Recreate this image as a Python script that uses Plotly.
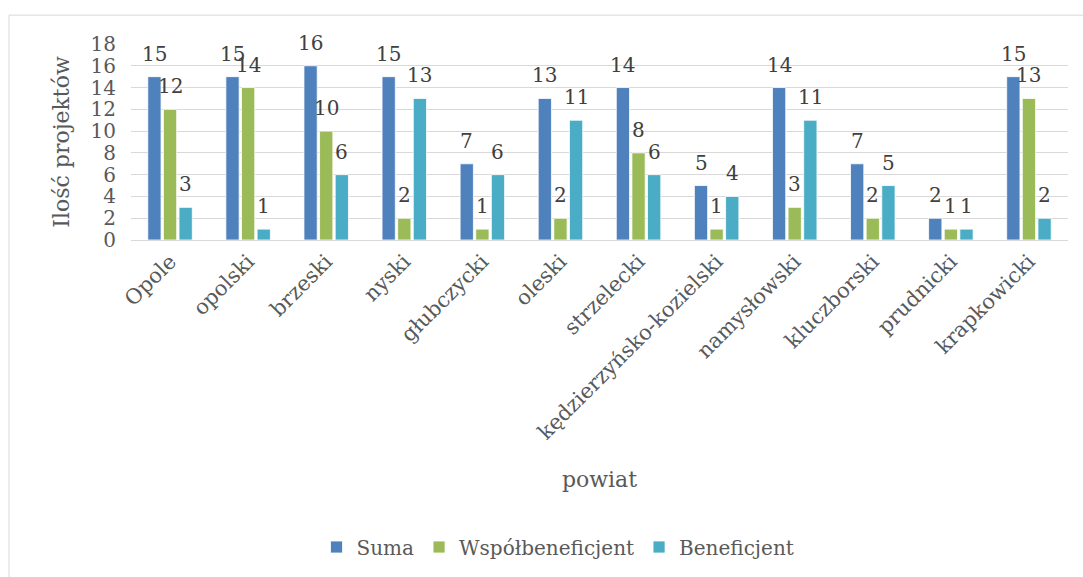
import plotly.graph_objects as go

categories = ["Opole", "opolski", "brzeski", "nyski", "głubczycki", "oleski",
              "strzelecki", "kędzierzyńsko-kozielski", "namysłowski", "kluczborski",
              "prudnicki", "krapkowicki"]
suma = [15, 15, 16, 15, 7, 13, 14, 5, 14, 7, 2, 15]
wspolbeneficjent = [12, 14, 10, 2, 1, 2, 8, 1, 3, 2, 1, 13]
beneficjent = [3, 1, 6, 13, 6, 11, 6, 4, 11, 5, 1, 2]
series_names = ["Suma", "Współbeneficjent", "Beneficjent"]
series_values = [suma, wspolbeneficjent, beneficjent]
colors = ["#4F81BD", "#9BBB59", "#4BACC6"]
y_ticks = list(range(0, 19, 2))

W, H = 1083, 577
ML, MR, MT, MB = 131, 15, 44, 336
FONT = "DejaVu Serif"
BARGAP = 0.4
BARGROUPGAP = 0.15

fig = go.Figure()
for name, vals, col in zip(series_names, series_values, colors):
    fig.add_trace(go.Bar(
        x=categories, y=vals, name=name,
        marker=dict(color=col, line=dict(color="#FFFFFF", width=0.8)),
        hoverinfo="x+y+name",
    ))

# data labels via annotations, shifted to each bar's group slot
plot_w = W - ML - MR
slot_px = plot_w / len(categories) * (1 - BARGAP) / len(series_names)
for i, vals in enumerate(series_values):
    shift = (i - (len(series_names) - 1) / 2) * slot_px
    for c, v in zip(categories, vals):
        fig.add_annotation(x=c, y=v, text=str(v), showarrow=False,
                           xref="x", yref="y", xanchor="center", yanchor="bottom",
                           xshift=shift, yshift=9,
                           font=dict(family=FONT, size=20, color="#404040"))

# outer chart border
fig.add_shape(type="rect", xref="paper", yref="paper",
              x0=(9 - ML) / plot_w, x1=(1090 - ML) / plot_w,
              y0=(H - MB - 590) / (H - MT - MB), y1=(H - MB - 15) / (H - MT - MB),
              line=dict(color="#D9D9D9", width=1), fillcolor="rgba(0,0,0,0)", layer="below")

fig.update_layout(
    width=W, height=H,
    margin=dict(l=ML, r=MR, t=MT, b=MB),
    paper_bgcolor="white", plot_bgcolor="white",
    barmode="group", bargap=BARGAP, bargroupgap=BARGROUPGAP,
    font=dict(family=FONT, size=20, color="#595959"),
    showlegend=True,
    legend=dict(orientation="h", x=(558 - ML) / plot_w, xanchor="center",
                y=(H - MB - 547) / (H - MT - MB), yanchor="middle",
                font=dict(family=FONT, size=20, color="#595959"),
                traceorder="normal"),
    xaxis=dict(
        tickangle=-45, tickfont=dict(family=FONT, size=21, color="#595959"),
        showline=True, linecolor="#D9D9D9", linewidth=1, showgrid=False,
        ticks="", automargin=False,
        title=dict(text="powiat", font=dict(family=FONT, size=22, color="#595959"), standoff=28),
    ),
    yaxis=dict(
        range=[0, 18], tickvals=y_ticks, ticktext=[str(t) for t in y_ticks],
        showgrid=True, gridcolor="#D9D9D9", gridwidth=1, zeroline=False,
        showline=False, ticks="", ticklabelstandoff=14, automargin=False,
        tickfont=dict(family=FONT, size=20, color="#595959"),
        title=dict(text="Ilość projektów", font=dict(family=FONT, size=22, color="#595959"), standoff=14),
    ),
)

fig.write_html("out.html")
